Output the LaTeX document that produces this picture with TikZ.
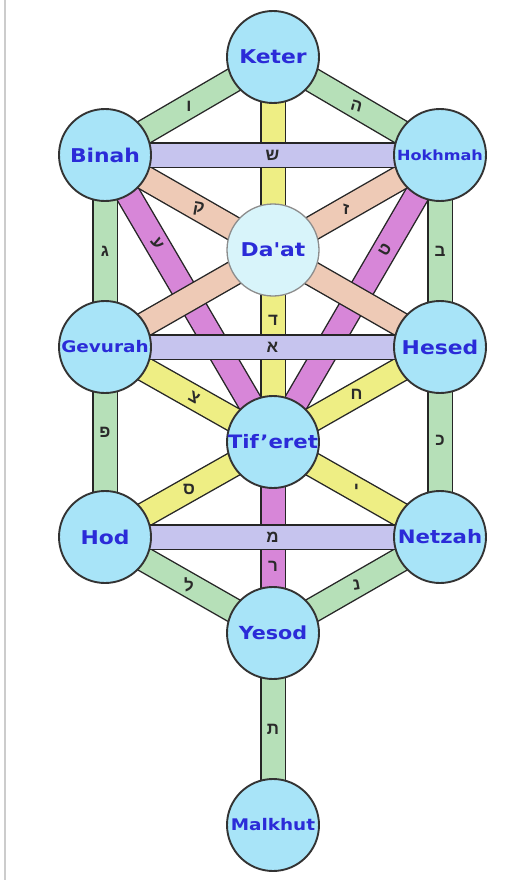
\documentclass[tikz,border=0pt]{standalone}
\usepackage{fontspec}
\setmainfont{DejaVu Sans}
\newfontfamily\hebfont[Script=Hebrew]{Liberation Sans}
\usetikzlibrary{backgrounds}
\definecolor{nodefill}{HTML}{A8E4F8}
\definecolor{daatfill}{HTML}{D8F4FA}
\definecolor{txtblue}{HTML}{2B2BD8}
\definecolor{pgreen}{HTML}{B6E0B8}
\definecolor{ppurple}{HTML}{C6C4EE}
\definecolor{pyellow}{HTML}{EEEE84}
\definecolor{psalmon}{HTML}{EECAB6}
\definecolor{pmagenta}{HTML}{D786D8}
\definecolor{lettercol}{HTML}{2A2A2A}
\begin{document}
\begin{tikzpicture}[x=1pt,y=-1pt,
  sefira/.style={circle, minimum size=92pt, inner sep=0pt, fill=nodefill,
    draw=black!80, line width=1.9pt, text=txtblue},
  daatnode/.style={sefira, fill=daatfill, draw=black!45, line width=1.3pt},
  bar/.style={draw=black!85, line width=1.4pt, double distance=23pt, double=#1},
  hlet/.style={text=lettercol, inner sep=0pt, font=\hebfont\bfseries\fontsize{17}{17}\selectfont}]
\newcommand{\lbl}[2]{\fontsize{#1}{#1}\selectfont\bfseries\scalebox{1.15}[1]{#2}}
\useasboundingbox (0,0) rectangle (528,880);

\node[sefira] (Keter) at (273,57) {\lbl{19}{Keter}};
\node[sefira] (Binah) at (105,155) {\lbl{19}{Binah}};
\node[sefira] (Hokhmah) at (440,155) {\lbl{14}{Hokhmah}};
\node[daatnode] (Daat) at (273,250) {\lbl{19}{Da\textquotesingle at}};
\node[sefira] (Gevurah) at (105,347) {\lbl{16}{Gevurah}};
\node[sefira] (Hesed) at (440,347) {\lbl{19}{Hesed}};
\node[sefira] (Tiferet) at (273,442) {\lbl{18.5}{Tif'eret}};
\node[sefira] (Hod) at (105,537) {\lbl{19}{Hod}};
\node[sefira] (Netzah) at (440,537) {\lbl{18.5}{Netzah}};
\node[sefira] (Yesod) at (273,633) {\lbl{18}{Yesod}};
\node[sefira] (Malkhut) at (273,825) {\lbl{16}{Malkhut}};

\begin{pgfonlayer}{background}
\fill[white] (0,0) rectangle (528,880);
\draw[black!20, line width=2pt] (5,0) -- (5,880);
% green paths
\draw[bar=pgreen] (Keter.center) -- node[hlet] (lVav) {ו} (Binah.center);
\draw[bar=pgreen] (Keter.center) -- node[hlet, rotate=-15] (lHe) {ה} (Hokhmah.center);
\draw[bar=pgreen] (Binah.center) -- node[hlet] (lGimel) {ג} (Gevurah.center);
\draw[bar=pgreen] (Hokhmah.center) -- node[hlet] (lBet) {ב} (Hesed.center);
\draw[bar=pgreen] (Gevurah.center) -- node[hlet, pos=0.45] (lPe) {פ} (Hod.center);
\draw[bar=pgreen] (Hesed.center) -- node[hlet, pos=0.49] (lKaf) {כ} (Netzah.center);
\draw[bar=pgreen] (Hod.center) -- node[hlet] (lLamed) {ל} (Yesod.center);
\draw[bar=pgreen] (Netzah.center) -- node[hlet, rotate=10] (lNun) {נ} (Yesod.center);
\draw[bar=pgreen] (Yesod.center) -- node[hlet] (lTav) {ת} (Malkhut.center);
% magenta paths
\draw[bar=pmagenta] (Binah.center) -- node[hlet, sloped, pos=0.31] (lAyin) {ע} (Tiferet.center);
\draw[bar=pmagenta] (Hokhmah.center) -- node[hlet, sloped, pos=0.33] (lTet) {ט} (Tiferet.center);
\draw[bar=pmagenta] (Tiferet.center) -- node[hlet, pos=0.65] (lResh) {ר} (Yesod.center);
% yellow paths
\draw[bar=pyellow] (Keter.center) -- node[hlet, pos=0.683] (lDalet) {ד} (Tiferet.center);
\draw[bar=pyellow] (Gevurah.center) -- node[hlet, sloped, pos=0.53] (lTsadi) {צ} (Tiferet.center);
\draw[bar=pyellow] (Hesed.center) -- node[hlet, pos=0.5] (lHet) {ח} (Tiferet.center);
\draw[bar=pyellow] (Tiferet.center) -- node[hlet] (lSamekh) {ס} (Hod.center);
\draw[bar=pyellow] (Tiferet.center) -- node[hlet] (lYod) {י} (Netzah.center);
% salmon paths
\draw[bar=psalmon] (Binah.center) -- node[hlet, rotate=-10, pos=0.28] (lQof) {ק} (Hesed.center);
\draw[bar=psalmon] (Hokhmah.center) -- node[hlet, pos=0.28] (lZayin) {ז} (Gevurah.center);
% lavender paths
\draw[bar=ppurple] (Binah.center) -- node[hlet] (lShin) {ש} (Hokhmah.center);
\draw[bar=ppurple] (Gevurah.center) -- node[hlet] (lAlef) {א} (Hesed.center);
\draw[bar=ppurple] (Hod.center) -- node[hlet] (lMem) {מ} (Netzah.center);
\end{pgfonlayer}
\end{tikzpicture}
\end{document}
